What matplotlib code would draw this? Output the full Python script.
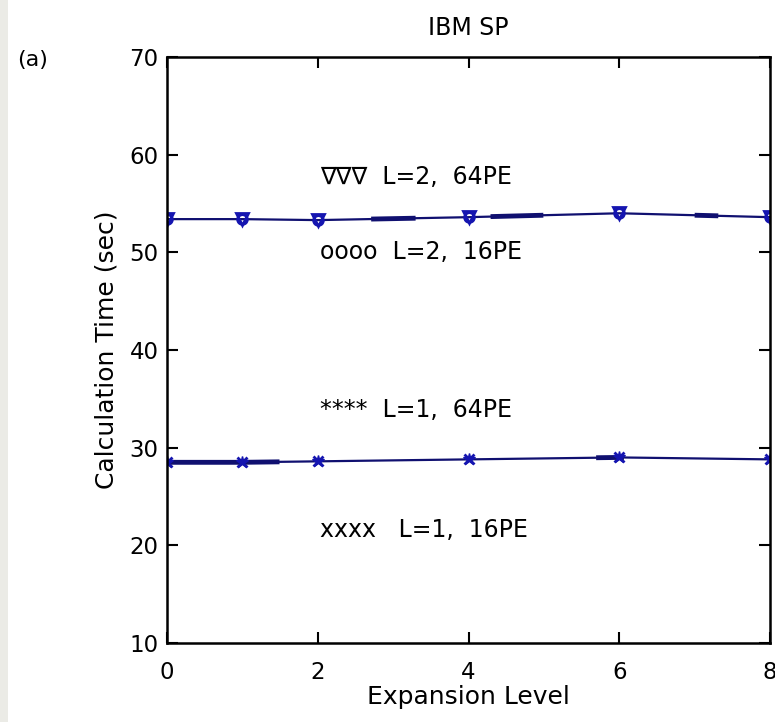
import matplotlib
matplotlib.use('Agg')
import matplotlib.pyplot as plt
from matplotlib.patches import Rectangle

# expansion levels and calculation times
levels = [0, 1, 2, 4, 6, 8]
t_L2_16PE = [53.4, 53.4, 53.3, 53.6, 54.0, 53.6]
t_L2_64PE = [53.4, 53.4, 53.3, 53.6, 54.0, 53.6]
t_L1_16PE = [28.5, 28.5, 28.6, 28.8, 29.0, 28.8]
t_L1_64PE = [28.5, 28.5, 28.6, 28.8, 29.0, 28.8]

xticks = [0, 2, 4, 6, 8]
yticks = [10, 20, 30, 40, 50, 60, 70]

line_clr = '#101070'
mark_clr = '#1515b0'
fs = 17

plt.rcParams['font.family'] = ['DejaVu Sans']
plt.rcParams['lines.scale_dashes'] = False

fig = plt.figure(figsize=(7.75, 7.22), dpi=100)
fig.patches.append(Rectangle((0, 0), 8 / 775, 1, transform=fig.transFigure,
                             facecolor='#ebebe6', edgecolor='none'))
ax = fig.add_axes([167 / 775, 79 / 722, 603 / 775, 586 / 722])

ax.plot(levels, t_L2_16PE, color=line_clr, lw=1.6, marker='o', ms=7,
        mfc='none', mec=mark_clr, mew=2)
ax.plot(levels, t_L2_64PE, color=line_clr, lw=3.5,
        ls=(350, (32, 54, 38, 109, 17, 247)), marker='v', ms=8,
        mfc='none', mec=mark_clr, mew=2)
ax.plot(levels, t_L1_16PE, color=line_clr, lw=1.6, marker='x', ms=7,
        mec=mark_clr, mew=2)
ax.plot(levels, t_L1_64PE, color=line_clr, lw=3.5,
        ls=(0, (81, 228, 20, 500)), marker='*', ms=9,
        mec=mark_clr, mfc=mark_clr)

ax.text(2.03, 57.7, '\u2207\u2207\u2207  L=2,  64PE', fontsize=fs, va='center')
ax.text(2.03, 50.0, 'oooo  L=2,  16PE', fontsize=fs, va='center')
ax.text(2.03, 33.9, '****  L=1,  64PE', fontsize=fs, va='center')
ax.text(2.03, 21.6, 'xxxx   L=1,  16PE', fontsize=fs, va='center')

ax.set_xlim(0, 8)
ax.set_ylim(10, 70)
ax.set_xticks(xticks)
ax.set_yticks(yticks)
ax.tick_params(direction='in', top=True, right=True, length=8, width=1.5,
               labelsize=fs - 0.5)
ax.tick_params(axis='x', pad=13)
ax.tick_params(axis='y', pad=6)
for sp in ax.spines.values():
    sp.set_linewidth(1.8)

ax.set_xlabel('Expansion Level', fontsize=fs + 1, labelpad=1)
ax.set_ylabel('Calculation Time (sec)', fontsize=fs + 1, labelpad=8)
ax.set_title('IBM SP', fontsize=fs, pad=16)
fig.text(17 / 775, 1 - 60 / 722, '(a)', fontsize=fs - 1, va='center')

fig.savefig('out.png', dpi=100)
